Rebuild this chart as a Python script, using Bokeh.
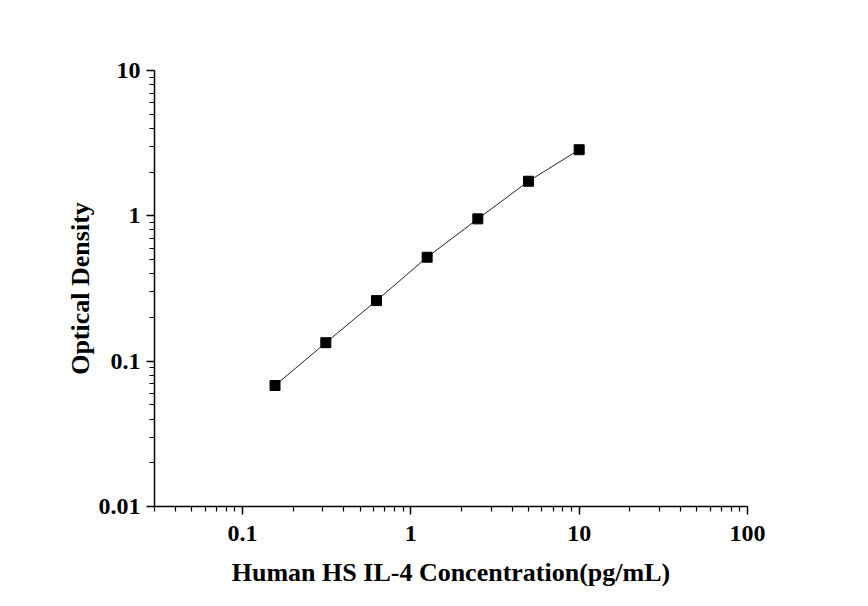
from bokeh.plotting import figure
from bokeh.models import Range1d, FixedTicker, CustomJSTickFormatter
from bokeh.embed import file_html
from bokeh.resources import INLINE

# Data
concentration = [0.156, 0.3125, 0.625, 1.25, 2.5, 5, 10]
optical_density = [0.068, 0.134, 0.261, 0.519, 0.953, 1.73, 2.85]

x_tick_values = [0.1, 1, 10, 100]
x_tick_labels = ["0.1", "1", "10", "100"]
y_tick_values = [0.01, 0.1, 1, 10]
y_tick_labels = ["0.01", "0.1", "1", "10"]

x_title = "Human HS IL-4 Concentration(pg/mL)"
y_title = "Optical Density"

FONT = "Liberation Serif"

p = figure(width=860, height=598, x_axis_type="log", y_axis_type="log",
           x_range=Range1d(0.03, 100), y_range=Range1d(0.01, 10),
           output_backend="svg", toolbar_location=None,
           min_border_left=154, min_border_right=113,
           min_border_top=70, min_border_bottom=92)

p.outline_line_color = None
p.xgrid.grid_line_color = None
p.ygrid.grid_line_color = None
p.background_fill_color = "white"
p.border_fill_color = "white"

def minors(lo_exp, hi_exp):
    out = []
    for e in range(lo_exp, hi_exp):
        for k in range(2, 10):
            out.append(k * 10.0 ** e)
    return out

code = """
for (let i = 0; i < tvals.length; i++) {
  if (Math.abs(Math.log10(tick) - Math.log10(tvals[i])) < 1e-6) return tlabs[i];
}
return "";
"""

p.xaxis.ticker = FixedTicker(ticks=x_tick_values, minor_ticks=[v for v in minors(-2, 2) if v >= 0.03])
p.yaxis.ticker = FixedTicker(ticks=y_tick_values, minor_ticks=minors(-2, 1))
p.xaxis.formatter = CustomJSTickFormatter(args=dict(tvals=x_tick_values, tlabs=x_tick_labels), code=code)
p.yaxis.formatter = CustomJSTickFormatter(args=dict(tvals=y_tick_values, tlabs=y_tick_labels), code=code)

for ax in (p.xaxis, p.yaxis):
    ax.axis_line_width = 1.5
    ax.axis_line_color = "black"
    ax.major_tick_line_color = "black"
    ax.minor_tick_line_color = "black"
    ax.major_tick_line_width = 1.5
    ax.minor_tick_line_width = 1.2
    ax.major_tick_out = 8
    ax.major_tick_in = 0
    ax.minor_tick_out = 5
    ax.minor_tick_in = 0
    ax.major_label_text_font = FONT
    ax.major_label_text_font_style = "bold"
    ax.major_label_text_font_size = "24px"
    ax.major_label_text_color = "black"
    ax.axis_label_text_font = FONT
    ax.axis_label_text_font_style = "bold"
    ax.axis_label_text_font_size = "26px"
    ax.axis_label_text_color = "black"

p.xaxis.major_label_standoff = 11
p.yaxis.major_label_standoff = 6
p.xaxis.axis_label = x_title
p.yaxis.axis_label = y_title
p.xaxis.axis_label_standoff = 14
p.yaxis.axis_label_standoff = 1

p.line(concentration, optical_density, line_color="#222222", line_width=1)
p.scatter(concentration, optical_density, marker="square", size=10,
          fill_color="black", line_color="black")

open("out.html", "w").write(file_html(p, INLINE))
